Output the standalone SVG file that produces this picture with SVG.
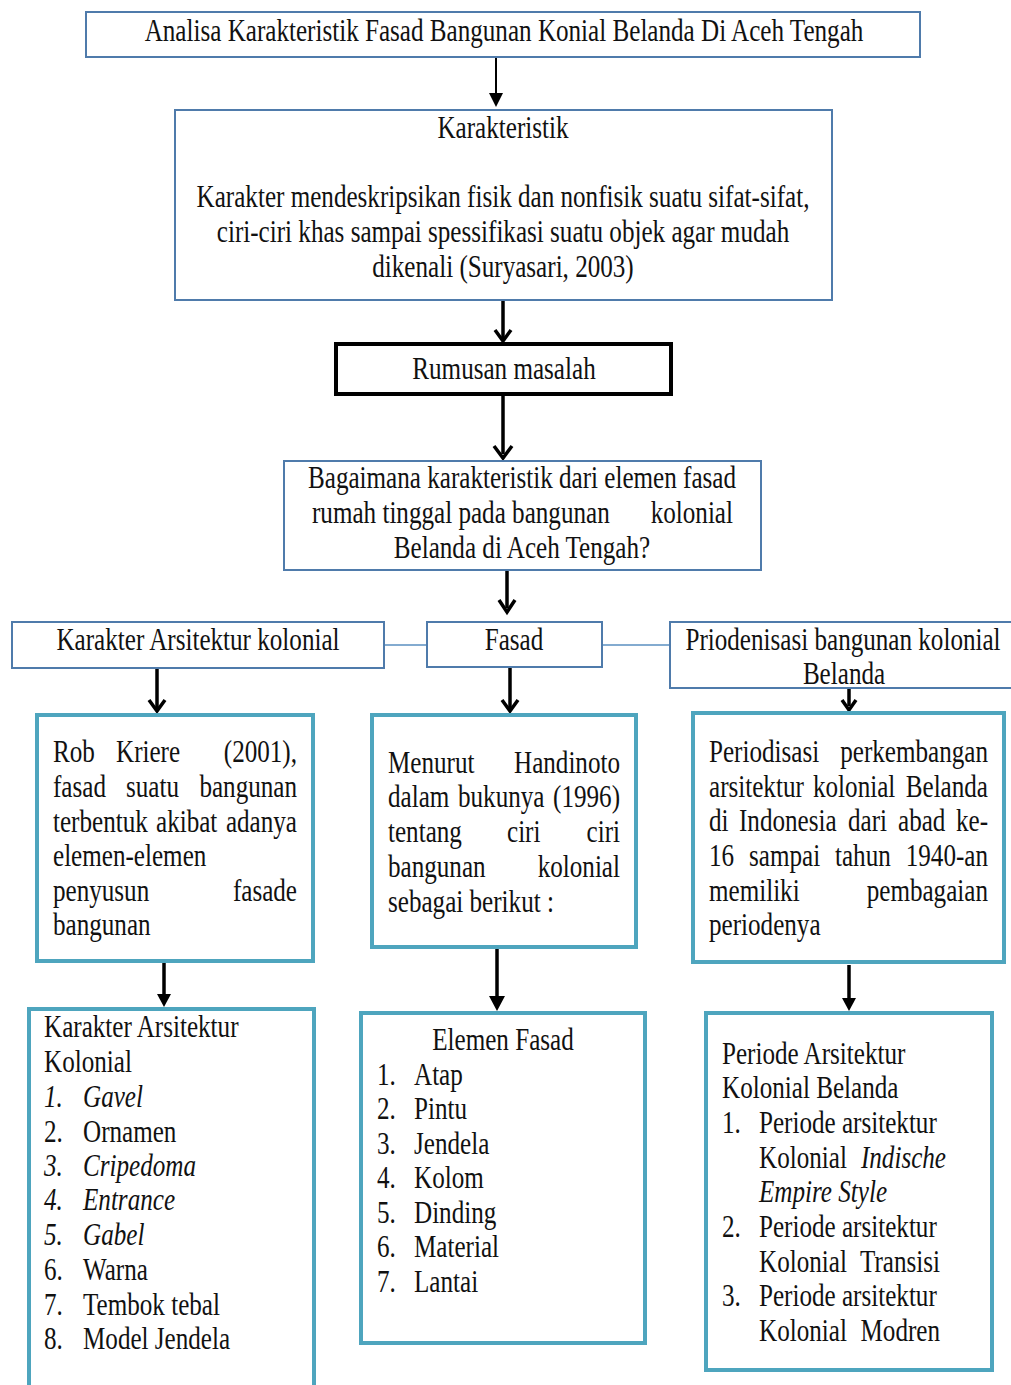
<svg xmlns="http://www.w3.org/2000/svg" width="1011" height="1385" viewBox="0 0 1011 1385">
<style>
text{font-family:"Liberation Serif","Times New Roman",serif;font-size:32px;fill:#111}
.m{text-anchor:middle}.e{text-anchor:end}.i{font-style:italic}
.b1{fill:#fff;stroke:#4f7bab;stroke-width:2}
.b2{fill:#fff;stroke:#4ea5be;stroke-width:4}
.b3{fill:#fff;stroke:#000;stroke-width:4}
.ln{stroke:#000;stroke-width:3.5;fill:none}
.thin{stroke:#000;stroke-width:2;fill:none}
.v{stroke:#000;stroke-width:3.5;fill:none;stroke-linejoin:miter}
.hd{fill:#000}
.lk{stroke:#5a8fc0;stroke-width:1.5;fill:none}
</style>
<rect width="1011" height="1385" fill="#fff"/>

<g id="connectors">
  <line class="thin" x1="496" y1="57" x2="496" y2="96"/>
  <path class="hd" d="M489,93 L503,93 L496,107 Z"/>
  <line class="ln" x1="503" y1="300" x2="503" y2="338"/>
  <path class="v" d="M495,330 L503,341 L511,330"/>
  <line class="ln" x1="503" y1="396" x2="503" y2="454"/>
  <path class="v" d="M494,446 L503,458 L512,446"/>
  <line class="ln" x1="507" y1="570" x2="507" y2="608"/>
  <path class="v" d="M499,600 L507,612 L515,600"/>
  <line class="lk" x1="384" y1="645" x2="427" y2="645"/>
  <line class="lk" x1="602" y1="645" x2="670" y2="645"/>
  <line class="ln" x1="157" y1="668" x2="157" y2="708"/>
  <path class="v" d="M149,700 L157,711 L165,700"/>
  <line class="ln" x1="510" y1="667" x2="510" y2="708"/>
  <path class="v" d="M502,700 L510,711 L518,700"/>
  <line class="ln" x1="849" y1="689" x2="849" y2="706"/>
  <path class="v" d="M842,700 L849,710 L856,700"/>
  <line class="ln" x1="164" y1="961" x2="164" y2="996"/>
  <path class="hd" d="M157,994 L171,994 L164,1007 Z"/>
  <line class="ln" x1="497" y1="947" x2="497" y2="998"/>
  <path class="hd" d="M489,996 L505,996 L497,1011 Z"/>
  <line class="ln" x1="849" y1="965" x2="849" y2="1000"/>
  <path class="hd" d="M842,998 L856,998 L849,1011 Z"/>
</g>

<g id="title">
  <rect class="b1" x="86" y="12" width="834" height="45"/>
  <text class="m" transform="translate(504 41) scale(.785 1)">Analisa Karakteristik Fasad Bangunan Konial Belanda Di Aceh Tengah</text>
</g>

<g id="karakteristik">
  <rect class="b1" x="175" y="110" width="657" height="190"/>
  <text class="m" transform="translate(503 138) scale(.785 1)">Karakteristik</text>
  <text class="m" transform="translate(503 207) scale(.785 1)">Karakter mendeskripsikan fisik dan nonfisik suatu sifat-sifat,</text>
  <text class="m" transform="translate(503 242) scale(.785 1)">ciri-ciri khas sampai spessifikasi suatu objek agar mudah</text>
  <text class="m" transform="translate(503 277) scale(.785 1)">dikenali (Suryasari, 2003)</text>
</g>

<g id="rumusan">
  <rect class="b3" x="336" y="344" width="335" height="50"/>
  <text class="m" transform="translate(504 379) scale(.785 1)">Rumusan masalah</text>
</g>

<g id="pertanyaan">
  <rect class="b1" x="284" y="461" width="477" height="109"/>
  <text class="m" transform="translate(522 488) scale(.785 1)">Bagaimana karakteristik dari elemen fasad</text>
  <text transform="translate(312 523) scale(.785 1)">rumah tinggal pada bangunan</text>
  <text class="e" transform="translate(733 523) scale(.785 1)">kolonial</text>
  <text class="m" transform="translate(522 558) scale(.785 1)">Belanda di Aceh Tengah?</text>
</g>

<g id="karakter-arsitektur">
  <rect class="b1" x="12" y="622" width="372" height="46"/>
  <text class="m" transform="translate(198 650) scale(.785 1)">Karakter Arsitektur kolonial</text>
</g>

<g id="fasad">
  <rect class="b1" x="427" y="622" width="175" height="45"/>
  <text class="m" transform="translate(514 650) scale(.785 1)">Fasad</text>
</g>

<g id="priodenisasi">
  <rect class="b1" x="670" y="622" width="350" height="66"/>
  <text class="m" transform="translate(843 650) scale(.785 1)">Priodenisasi bangunan kolonial</text>
  <text class="m" transform="translate(844 684) scale(.785 1)">Belanda</text>
</g>

<g id="rob-kriere">
  <rect class="b2" x="37" y="715" width="276" height="246"/>
  <text transform="translate(53 762) scale(.785 1)">Rob</text>
  <text transform="translate(116 762) scale(.785 1)">Kriere</text>
  <text class="e" transform="translate(297 762) scale(.785 1)">(2001),</text>
  <text transform="translate(53 797) scale(.785 1)">fasad</text>
  <text transform="translate(126 797) scale(.785 1)">suatu</text>
  <text class="e" transform="translate(297 797) scale(.785 1)">bangunan</text>
  <text transform="translate(53 832) scale(.785 1)">terbentuk</text>
  <text transform="translate(156 832) scale(.785 1)">akibat</text>
  <text class="e" transform="translate(297 832) scale(.785 1)">adanya</text>
  <text transform="translate(53 866) scale(.785 1)">elemen-elemen</text>
  <text transform="translate(53 901) scale(.785 1)">penyusun</text>
  <text class="e" transform="translate(297 901) scale(.785 1)">fasade</text>
  <text transform="translate(53 935) scale(.785 1)">bangunan</text>
</g>

<g id="handinoto">
  <rect class="b2" x="372" y="715" width="264" height="232"/>
  <text transform="translate(388 773) scale(.785 1)">Menurut</text>
  <text class="e" transform="translate(620 773) scale(.785 1)">Handinoto</text>
  <text transform="translate(388 807) scale(.785 1)">dalam</text>
  <text transform="translate(458 807) scale(.785 1)">bukunya</text>
  <text class="e" transform="translate(620 807) scale(.785 1)">(1996)</text>
  <text transform="translate(388 842) scale(.785 1)">tentang</text>
  <text transform="translate(507 842) scale(.785 1)">ciri</text>
  <text class="e" transform="translate(620 842) scale(.785 1)">ciri</text>
  <text transform="translate(388 877) scale(.785 1)">bangunan</text>
  <text class="e" transform="translate(620 877) scale(.785 1)">kolonial</text>
  <text transform="translate(388 912) scale(.785 1)">sebagai berikut :</text>
</g>

<g id="periodisasi">
  <rect class="b2" x="693" y="713" width="311" height="249"/>
  <text transform="translate(709 762) scale(.785 1)">Periodisasi</text>
  <text class="e" transform="translate(988 762) scale(.785 1)">perkembangan</text>
  <text transform="translate(709 797) scale(.785 1)">arsitektur</text>
  <text transform="translate(813 797) scale(.785 1)">kolonial</text>
  <text class="e" transform="translate(988 797) scale(.785 1)">Belanda</text>
  <text transform="translate(709 831) scale(.785 1)">di</text>
  <text transform="translate(739 831) scale(.785 1)">Indonesia</text>
  <text transform="translate(848 831) scale(.785 1)">dari</text>
  <text transform="translate(898 831) scale(.785 1)">abad</text>
  <text class="e" transform="translate(988 831) scale(.785 1)">ke-</text>
  <text transform="translate(709 866) scale(.785 1)">16</text>
  <text transform="translate(749 866) scale(.785 1)">sampai</text>
  <text transform="translate(835 866) scale(.785 1)">tahun</text>
  <text class="e" transform="translate(988 866) scale(.785 1)">1940-an</text>
  <text transform="translate(709 901) scale(.785 1)">memiliki</text>
  <text class="e" transform="translate(988 901) scale(.785 1)">pembagaian</text>
  <text transform="translate(709 935) scale(.785 1)">periodenya</text>
</g>

<g id="karakter-list">
  <rect class="b2" x="29" y="1009" width="285" height="400"/>
  <text transform="translate(44 1037) scale(.785 1)">Karakter Arsitektur</text>
  <text transform="translate(44 1072) scale(.785 1)">Kolonial</text>
  <text class="i" transform="translate(44 1107) scale(.785 1)">1.</text>
  <text class="i" transform="translate(83 1107) scale(.785 1)">Gavel</text>
  <text transform="translate(44 1142) scale(.785 1)">2.</text>
  <text transform="translate(83 1142) scale(.785 1)">Ornamen</text>
  <text class="i" transform="translate(44 1176) scale(.785 1)">3.</text>
  <text class="i" transform="translate(83 1176) scale(.785 1)">Cripedoma</text>
  <text class="i" transform="translate(44 1210) scale(.785 1)">4.</text>
  <text class="i" transform="translate(83 1210) scale(.785 1)">Entrance</text>
  <text class="i" transform="translate(44 1245) scale(.785 1)">5.</text>
  <text class="i" transform="translate(83 1245) scale(.785 1)">Gabel</text>
  <text transform="translate(44 1280) scale(.785 1)">6.</text>
  <text transform="translate(83 1280) scale(.785 1)">Warna</text>
  <text transform="translate(44 1315) scale(.785 1)">7.</text>
  <text transform="translate(83 1315) scale(.785 1)">Tembok tebal</text>
  <text transform="translate(44 1349) scale(.785 1)">8.</text>
  <text transform="translate(83 1349) scale(.785 1)">Model Jendela</text>
</g>

<g id="elemen-fasad">
  <rect class="b2" x="361" y="1013" width="284" height="330"/>
  <text class="m" transform="translate(503 1050) scale(.785 1)">Elemen Fasad</text>
  <text transform="translate(377 1085) scale(.785 1)">1.</text>
  <text transform="translate(414 1085) scale(.785 1)">Atap</text>
  <text transform="translate(377 1119) scale(.785 1)">2.</text>
  <text transform="translate(414 1119) scale(.785 1)">Pintu</text>
  <text transform="translate(377 1154) scale(.785 1)">3.</text>
  <text transform="translate(414 1154) scale(.785 1)">Jendela</text>
  <text transform="translate(377 1188) scale(.785 1)">4.</text>
  <text transform="translate(414 1188) scale(.785 1)">Kolom</text>
  <text transform="translate(377 1223) scale(.785 1)">5.</text>
  <text transform="translate(414 1223) scale(.785 1)">Dinding</text>
  <text transform="translate(377 1257) scale(.785 1)">6.</text>
  <text transform="translate(414 1257) scale(.785 1)">Material</text>
  <text transform="translate(377 1292) scale(.785 1)">7.</text>
  <text transform="translate(414 1292) scale(.785 1)">Lantai</text>
</g>

<g id="periode-list">
  <rect class="b2" x="706" y="1013" width="286" height="357"/>
  <text transform="translate(722 1064) scale(.785 1)">Periode Arsitektur</text>
  <text transform="translate(722 1098) scale(.785 1)">Kolonial Belanda</text>
  <text transform="translate(722 1133) scale(.785 1)">1.</text>
  <text transform="translate(759 1133) scale(.785 1)">Periode arsitektur</text>
  <text transform="translate(759 1168) scale(.785 1)">Kolonial</text>
  <text class="i e" transform="translate(946 1168) scale(.785 1)">Indische</text>
  <text class="i" transform="translate(759 1202) scale(.785 1)">Empire Style</text>
  <text transform="translate(722 1237) scale(.785 1)">2.</text>
  <text transform="translate(759 1237) scale(.785 1)">Periode arsitektur</text>
  <text transform="translate(759 1272) scale(.785 1)">Kolonial</text>
  <text class="e" transform="translate(940 1272) scale(.785 1)">Transisi</text>
  <text transform="translate(722 1306) scale(.785 1)">3.</text>
  <text transform="translate(759 1306) scale(.785 1)">Periode arsitektur</text>
  <text transform="translate(759 1341) scale(.785 1)">Kolonial</text>
  <text class="e" transform="translate(940 1341) scale(.785 1)">Modren</text>
</g>
</svg>
